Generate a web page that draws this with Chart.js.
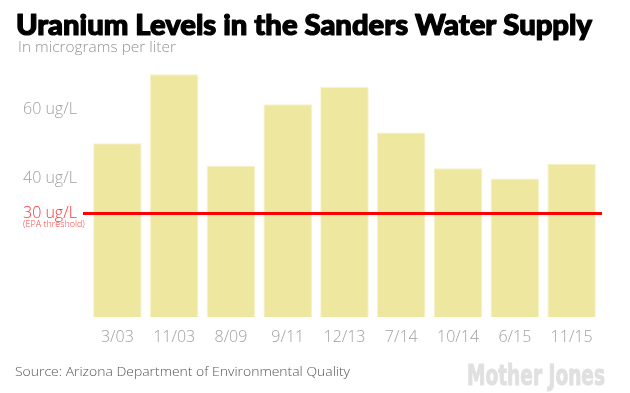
<!DOCTYPE html>
<html>
<head>
<meta charset="utf-8">
<style>
  html, body { margin: 0; padding: 0; background: #fff; }
  #wrap { width: 630px; height: 393px; position: relative; }
</style>
<script src="https://cdn.jsdelivr.net/npm/chart.js@4/dist/chart.umd.min.js"></script>
</head>
<body>
<div id="wrap"><canvas id="c" width="630" height="393"></canvas></div>
<script>
// ---- data ----
const categories = ["3/03", "11/03", "8/09", "9/11", "12/13", "7/14", "10/14", "6/15", "11/15"];
const uraniumValues = [50.3, 70.3, 43.8, 61.6, 66.6, 53.4, 43.1, 40.1, 44.3];
const tickValues = [30, 40, 60];
const tickUnit = " ug/L";
const threshold = 30;
const thresholdNote = "(EPA threshold)";
const titleText = "Uranium Levels in the Sanders Water Supply";
const subtitleText = "In micrograms per liter";
const sourceText = "Source: Arizona Department of Environmental Quality";
const logoText = "Mother Jones";

const RED = "rgb(255,0,0)";
const GRAY = "#a0a0a0";

const decorPlugin = {
  id: "decor",
  afterDatasetsDraw(chart) {
    const ctx = chart.ctx;
    const y = chart.scales.y;
    const area = chart.chartArea;
    const py = y.getPixelForValue(threshold);
    ctx.save();
    ctx.strokeStyle = RED;
    ctx.lineWidth = 3;
    ctx.beginPath();
    ctx.moveTo(83, py);
    ctx.lineTo(area.right + 2, py);
    ctx.stroke();
    ctx.fillStyle = "rgb(255,60,60)";
    ctx.font = "300 9px 'Open Sans', sans-serif";
    ctx.textBaseline = "middle";
    ctx.textAlign = "left";
    ctx.fillText(thresholdNote, 23, py + 11);
    ctx.restore();
  },
  afterDraw(chart) {
    const ctx = chart.ctx;
    ctx.save();
    // title
    ctx.fillStyle = "#000";
    ctx.strokeStyle = "#000";
    ctx.lineWidth = 1.2;
    ctx.lineJoin = "round";
    ctx.font = "900 28px Lato, 'Noto Sans', sans-serif";
    ctx.textBaseline = "alphabetic";
    ctx.textAlign = "left";
    let w = ctx.measureText(titleText).width;
    ctx.save();
    ctx.translate(16, 35);
    ctx.scale(576 / w, 1);
    ctx.fillText(titleText, 0, 0);
    ctx.strokeText(titleText, 0, 0);
    ctx.restore();
    // subtitle
    ctx.fillStyle = "#949494";
    ctx.font = "300 14px 'Open Sans', sans-serif";
    w = ctx.measureText(subtitleText).width;
    ctx.save();
    ctx.translate(18, 52);
    ctx.scale(158 / w, 1);
    ctx.fillText(subtitleText, 0, 0);
    ctx.restore();
    // source
    ctx.fillStyle = "#555";
    ctx.font = "300 13px 'Open Sans', sans-serif";
    w = ctx.measureText(sourceText).width;
    ctx.save();
    ctx.translate(15, 376);
    ctx.scale(335 / w, 1);
    ctx.fillText(sourceText, 0, 0);
    ctx.restore();
    // logo
    ctx.fillStyle = "#e0e0e0";
    ctx.strokeStyle = "#e0e0e0";
    ctx.lineWidth = 1;
    ctx.font = "bold 29px 'Liberation Sans Narrow', 'DejaVu Sans Condensed', sans-serif";
    w = ctx.measureText(logoText).width;
    ctx.save();
    ctx.translate(467, 385);
    ctx.scale(138 / w, 1);
    ctx.fillText(logoText, 0, 0);
    ctx.strokeText(logoText, 0, 0);
    ctx.restore();
    ctx.restore();
  }
};

new Chart(document.getElementById("c"), {
  type: "bar",
  data: {
    labels: categories,
    datasets: [{
      data: uraniumValues,
      backgroundColor: "rgb(238,231,160)",
      borderColor: "rgb(246,241,200)",
      borderWidth: 1,
      barPercentage: 0.855,
      categoryPercentage: 1
    }]
  },
  options: {
    responsive: false,
    animation: false,
    devicePixelRatio: 1,
    layout: { padding: { top: 58, left: 23, right: 30, bottom: 46 } },
    plugins: { legend: { display: false }, tooltip: { enabled: false }, title: { display: false } },
    scales: {
      x: {
        grid: { display: false, drawTicks: false },
        border: { display: false },
        ticks: {
          color: GRAY,
          font: { family: "'Open Sans', sans-serif", size: 16, weight: 300 },
          padding: 11,
          maxRotation: 0
        },
        afterFit(s) { s.height = 30; }
      },
      y: {
        min: 0,
        max: 75,
        grid: { display: false, drawTicks: false },
        border: { display: false },
        afterBuildTicks(s) { s.ticks = tickValues.map(v => ({ value: v })); },
        afterFit(s) { s.width = 66; },
        ticks: {
          crossAlign: "far",
          padding: 0,
          color: c => (c.tick && c.tick.value === threshold ? "rgb(255,50,50)" : GRAY),
          font: { family: "'Open Sans', sans-serif", size: 16, weight: 300 },
          callback: v => v + tickUnit
        }
      }
    }
  },
  plugins: [decorPlugin]
});
</script>
</body>
</html>
